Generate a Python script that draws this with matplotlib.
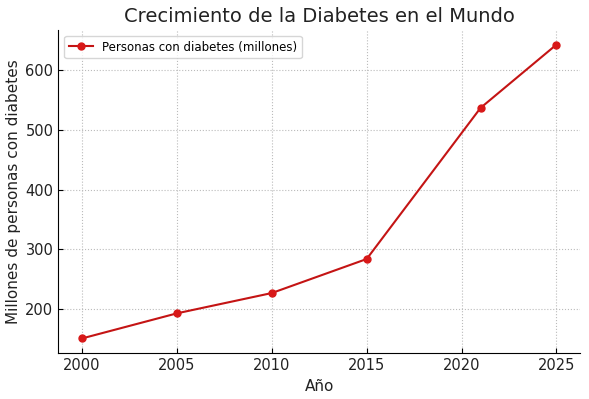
import matplotlib
matplotlib.use('Agg')
import matplotlib.pyplot as plt

years = [2000, 2005, 2010, 2015, 2021, 2025]
people = [151, 193, 227, 284, 537, 643]

fig, ax = plt.subplots(figsize=(5.89, 3.99), dpi=100)
ax.plot(years, people, color='#c41414', marker='o', markersize=5,
        markerfacecolor='#d81818', markeredgecolor='#d81818', linewidth=1.5,
        label='Personas con diabetes (millones)')

ax.set_title('Crecimiento de la Diabetes en el Mundo', fontsize=14, color='#222222')
ax.set_xlabel('Año', fontsize=11, color='#222222')
ax.set_ylabel('Millones de personas con diabetes', fontsize=11, color='#222222', labelpad=3)
ax.set_xticks([2000, 2005, 2010, 2015, 2020, 2025])
ax.tick_params(direction='in', labelsize=10.5, labelcolor='#222222')

ax.grid(True, linestyle=':', color='#bbbbbb', linewidth=0.8)
ax.spines['top'].set_visible(False)
ax.spines['right'].set_visible(False)
ax.legend(loc='upper left', fontsize=8.5)

plt.subplots_adjust(left=0.099, right=0.985, top=0.925, bottom=0.115)
plt.savefig('out.png')
